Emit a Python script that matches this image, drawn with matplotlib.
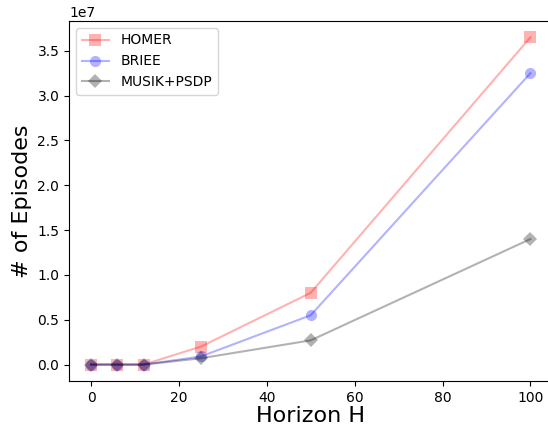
import matplotlib
matplotlib.use('Agg')
import matplotlib.pyplot as plt

# data
horizon = [0, 6, 12, 25, 50, 100]
homer = [0, 0, 0, 2.0e6, 8.0e6, 3.65e7]
briee = [0, 0, 0, 0.9e6, 5.5e6, 3.25e7]
musik = [0, 0, 0, 0.7e6, 2.7e6, 1.4e7]

fig = plt.figure(figsize=(5.48, 4.28), dpi=100)
ax = fig.add_axes([0.126, 0.110, 0.882, 0.841])

ax.plot(horizon, homer, color='red', marker='s', markersize=8, markeredgewidth=0, alpha=0.3, label='HOMER')
ax.plot(horizon, briee, color='blue', marker='o', markersize=8, markeredgewidth=0, alpha=0.3, label='BRIEE')
ax.plot(horizon, musik, color='black', marker='D', markersize=7, markeredgewidth=0, alpha=0.3, label='MUSIK+PSDP')

# the right edge of the frame falls outside the picture in the reference
ax.spines['right'].set_visible(False)

ax.set_xlabel('Horizon H', fontsize=16, labelpad=1)
ax.set_ylabel('# of Episodes', fontsize=16)
ax.legend(loc='upper left')

fig.savefig('out.png', dpi=100)
